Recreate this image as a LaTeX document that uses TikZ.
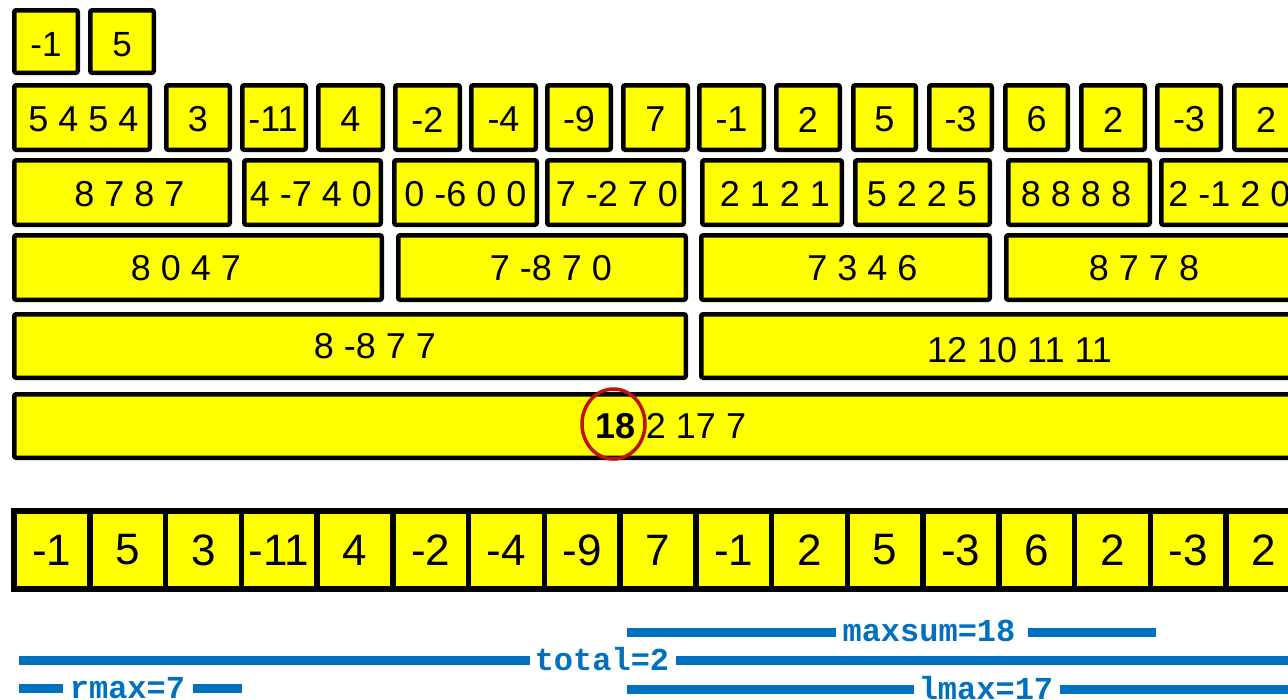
\documentclass[tikz,border=0pt]{standalone}
\usepackage{fontspec}
\setmainfont{Liberation Sans}
\setmonofont{Liberation Mono}
\usetikzlibrary{shapes.geometric}
\definecolor{boxyellow}{RGB}{255,255,0}
\definecolor{barblue}{RGB}{0,112,192}
\definecolor{circred}{RGB}{192,16,16}
\tikzset{
  box/.style={draw=black, fill=boxyellow, line width=4.5pt, rounded corners=2pt, inner sep=0pt, outer sep=0pt},
  cellbox/.style={draw=black, fill=boxyellow, line width=5.5pt, inner sep=0pt, outer sep=0pt,
    minimum width=75.75pt, minimum height=78pt, font=\fontsize{44}{48}\selectfont},
  txt/.style={inner sep=0pt, font=\fontsize{36}{40}\selectfont},
  toptxt/.style={inner sep=0pt, font=\fontsize{35}{40}\selectfont},
  bar/.style={draw=barblue, line width=9pt},
  bartxt/.style={inner sep=0pt, anchor=base, text=barblue, font=\fontsize{32}{36}\selectfont\ttfamily\bfseries},
  mark18/.style={draw=circred, line width=3.5pt, ellipse, inner sep=0pt, minimum width=63pt, minimum height=70pt}
}
\newcommand\bx[5]{\node[box,minimum width={#4-#2-4.5},minimum height={#5-#3-4.5}] (#1) at ({(#2+#4)/2},{(#3+#5)/2}) {};}
\begin{document}
\begin{tikzpicture}[x=1pt,y=-1pt]
\useasboundingbox (0,0) rectangle (1288,699);
\clip (0,0) rectangle (1288,699);
% row 1
\bx{a1}{12}{8}{80}{75}   \node[toptxt] (ta1) at (46,44.5) {-1};
\bx{a2}{88}{8}{156}{75}  \node[toptxt] (ta2) at (122,44.5) {5};
% row 2
\bx{b1}{12}{83}{152}{152}    \node[txt] (tb1) at (83.5,119.5) {5 4 5 4};
\bx{b2}{164}{83}{232}{152}   \node[txt] (tb2) at (198,119.5) {3};
\bx{b3}{240}{83}{308}{152}   \node[txt] (tb3) at (273,119.5) {-11};
\bx{b4}{316}{83}{385}{152}   \node[txt] (tb4) at (350.5,119.5) {4};
\bx{b5}{393}{83}{462}{152}   \node[txt] (tb5) at (427.5,119.5) {-2};
\bx{b6}{469}{83}{538}{152}   \node[txt] (tb6) at (503.5,119.5) {-4};
\bx{b7}{545}{83}{613}{152}   \node[txt] (tb7) at (579,119.5) {-9};
\bx{b8}{621}{83}{690}{152}   \node[txt] (tb8) at (655.5,119.5) {7};
\bx{b9}{697}{83}{766}{152}   \node[txt] (tb9) at (731.5,119.5) {-1};
\bx{b10}{774}{83}{842}{152}  \node[txt] (tb10) at (808,119.5) {2};
\bx{b11}{851}{83}{918}{152}  \node[txt] (tb11) at (884.5,119.5) {5};
\bx{b12}{927}{83}{994}{152}  \node[txt] (tb12) at (960.5,119.5) {-3};
\bx{b13}{1003}{83}{1070}{152} \node[txt] (tb13) at (1036.5,119.5) {6};
\bx{b14}{1079}{83}{1147}{152} \node[txt] (tb14) at (1113,119.5) {2};
\bx{b15}{1155}{83}{1223}{152} \node[txt] (tb15) at (1189,119.5) {-3};
\bx{b16}{1232}{83}{1300}{152} \node[txt] (tb16) at (1266,119.5) {2};
% row 3
\bx{c1}{12}{158}{232}{227}    \node[txt] (tc1) at (129.5,194) {8 7 8 7};
\bx{c2}{242}{158}{383}{227}   \node[txt] (tc2) at (311,194) {4 -7 4 0};
\bx{c3}{392}{158}{539}{227}   \node[txt] (tc3) at (465.5,194) {0 -6 0 0};
\bx{c4}{545}{158}{686}{227}   \node[txt] (tc4) at (617,194) {7 -2 7 0};
\bx{c5}{700}{158}{844}{227}   \node[txt] (tc5) at (775,194) {2 1 2 1};
\bx{c6}{853}{158}{992}{227}   \node[txt] (tc6) at (922,194) {5 2 2 5};
\bx{c7}{1006}{158}{1152}{227} \node[txt] (tc7) at (1076,194) {8 8 8 8};
\bx{c8}{1159}{158}{1310}{227} \node[txt] (tc8) at (1229.5,194) {2 -1 2 0};
% row 4
\bx{d1}{12}{233}{384}{302}    \node[txt] (td1) at (186,268) {8 0 4 7};
\bx{d2}{396}{233}{688}{302}   \node[txt] (td2) at (551,268) {7 -8 7 0};
\bx{d3}{699}{233}{992}{302}   \node[txt] (td3) at (862.5,268) {7 3 4 6};
\bx{d4}{1004}{233}{1310}{302} \node[txt] (td4) at (1144,268) {8 7 7 8};
% row 5
\bx{e1}{12}{312}{688}{380}    \node[txt] (te1) at (375,346.5) {8 -8 7 7};
\bx{e2}{699}{312}{1320}{380}  \node[txt] (te2) at (1019.5,350) {12 10 11 11};
% row 6
\bx{f1}{12}{392}{1320}{460}   \node[txt] (tf1) at (671,426.5) {{\bfseries 18} 2 17 7};
\node[mark18] (circ) at (613.5,424) {};
% array
\foreach \v [count=\i from 0] in {-1,5,3,-11,4,-2,-4,-9,7,-1,2,5,-3,6,2,-3,2} {
  \node[cellbox] (g\i) at ({14+75.75*\i+37.875},550) {\v};
}
% bars
\coordinate (ms1) at (627,632.5);  \coordinate (ms2) at (835.6,632.5);
\coordinate (ms3) at (1028,632.5); \coordinate (ms4) at (1156,632.5);
\node[bartxt] (mslab) at (929,641) {maxsum=18};
\draw[bar] (ms1) -- (ms2);
\draw[bar] (ms3) -- (ms4);
\coordinate (to1) at (19,660);  \coordinate (to2) at (530,660);
\coordinate (to3) at (676,660); \coordinate (to4) at (1300,660);
\node[bartxt] (tolab) at (602,670) {total=2};
\draw[bar] (to1) -- (to2);
\draw[bar] (to3) -- (to4);
\coordinate (lm1) at (627,689.5);  \coordinate (lm2) at (914,689.5);
\coordinate (lm3) at (1060,689.5); \coordinate (lm4) at (1300,689.5);
\node[bartxt] (lmlab) at (986,699) {lmax=17};
\draw[bar] (lm1) -- (lm2);
\draw[bar] (lm3) -- (lm4);
\coordinate (rm1) at (19,688);  \coordinate (rm2) at (62.5,688);
\coordinate (rm3) at (193,688); \coordinate (rm4) at (242,688);
\node[bartxt] (rmlab) at (127.5,698) {rmax=7};
\draw[bar] (rm1) -- (rm2);
\draw[bar] (rm3) -- (rm4);
\end{tikzpicture}
\end{document}
